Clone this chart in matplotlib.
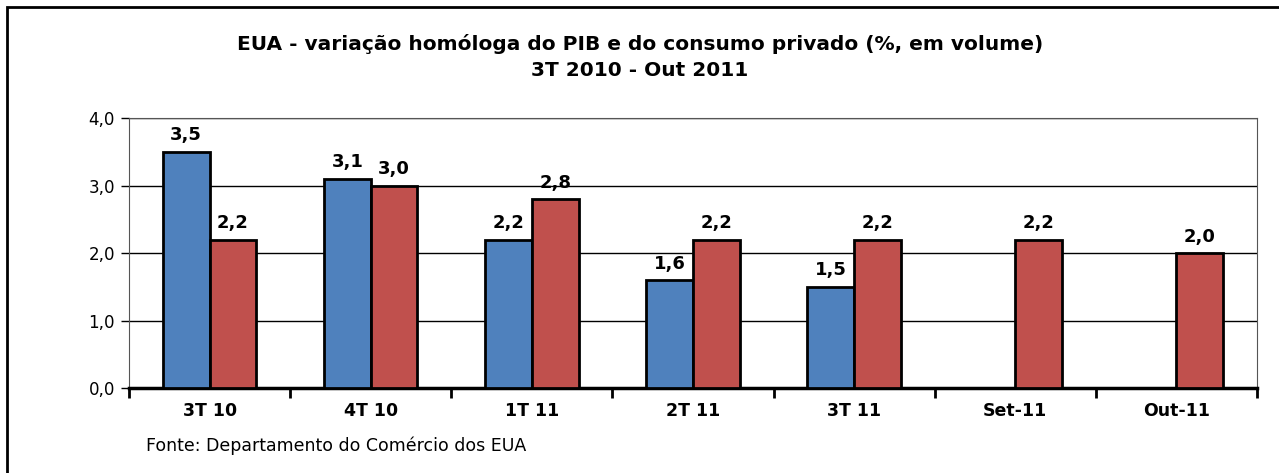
import matplotlib.pyplot as plt
import numpy as np
from matplotlib.patches import Rectangle
from matplotlib.ticker import FuncFormatter

# data
categories = ['3T 10', '4T 10', '1T 11', '2T 11', '3T 11', 'Set-11', 'Out-11']
pib = [3.5, 3.1, 2.2, 1.6, 1.5, np.nan, np.nan]
consumo = [2.2, 3.0, 2.8, 2.2, 2.2, 2.2, 2.0]

blue = '#4F81BD'
red = '#C0504D'

fig = plt.figure(figsize=(12.79, 4.73), dpi=100)
W, H = 1279, 473

# outer frame (cut off at right and bottom, like the original)
fig.patches.append(Rectangle((7 / W, -0.1), 1.1, (H - 7) / H + 0.1,
                             transform=fig.transFigure, fill=False,
                             edgecolor='black', linewidth=2))

ax = fig.add_axes([129 / W, 1 - 388 / H, (1257 - 129) / W, (388 - 118) / H])

x = np.arange(len(categories))
w = 0.29
ax.bar(x - w / 2, pib, w, color=blue, edgecolor='black', linewidth=2, zorder=3)
ax.bar(x + w / 2, consumo, w, color=red, edgecolor='black', linewidth=2, zorder=3)

# value labels
for i in range(len(categories)):
    if not np.isnan(pib[i]):
        ax.text(x[i] - w / 2, pib[i] + 0.11, ('%.1f' % pib[i]).replace('.', ','),
                ha='center', va='bottom', fontsize=13, fontweight='bold')
    ax.text(x[i] + w / 2, consumo[i] + 0.11, ('%.1f' % consumo[i]).replace('.', ','),
            ha='center', va='bottom', fontsize=13, fontweight='bold')

ax.set_xlim(-0.5, len(categories) - 0.5)
ax.set_ylim(0, 4)
ax.set_yticks([0, 1, 2, 3, 4])
ax.yaxis.set_major_formatter(FuncFormatter(lambda v, p: ('%.1f' % v).replace('.', ',')))
ax.tick_params(axis='y', labelsize=12, length=6, width=1, pad=4)
ax.set_xticks(x)
ax.set_xticklabels(categories, fontsize=12.5, fontweight='bold')
ax.tick_params(axis='x', length=0, pad=10)
# tick marks between categories
ax.set_xticks(np.arange(-0.5, len(categories)), minor=True)
ax.tick_params(axis='x', which='minor', length=7, width=2, direction='out')

ax.grid(axis='y', color='black', linewidth=1, zorder=0)
ax.spines['bottom'].set_linewidth(2.5)
ax.spines['left'].set_color('#555555')
ax.spines['top'].set_color('#555555')
ax.spines['right'].set_color('#555555')

fig.text(640 / W, 1 - 44 / H, 'EUA - variação homóloga do PIB e do consumo privado (%, em volume)',
         ha='center', va='center', fontsize=14.5, fontweight='bold')
fig.text(640 / W, 1 - 70 / H, '3T 2010 - Out 2011',
         ha='center', va='center', fontsize=14.5, fontweight='bold')
fig.text(146 / W, 1 - 446 / H, 'Fonte: Departamento do Comércio dos EUA',
         ha='left', va='center', fontsize=12.5)

fig.savefig('out.png', dpi=100)
